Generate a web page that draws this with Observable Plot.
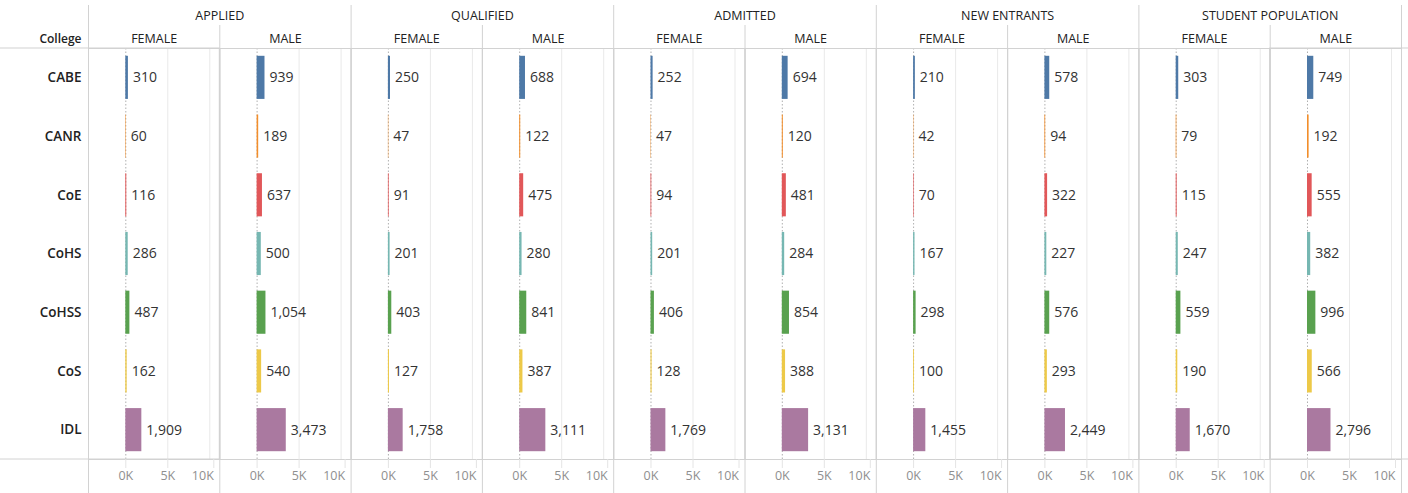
<!DOCTYPE html>
<html><head><meta charset="utf-8">
<script src="https://cdn.jsdelivr.net/npm/d3@7"></script>
<script src="https://cdn.jsdelivr.net/npm/@observablehq/plot@0.6"></script>
<style>html,body{margin:0;padding:0;background:#fff;} #chart svg{display:block;}</style>
</head><body><div id="chart"></div>
<script>
const colleges = ["CABE", "CANR", "CoE", "CoHS", "CoHSS", "CoS", "IDL"];
const stages = ["APPLIED", "QUALIFIED", "ADMITTED", "NEW ENTRANTS", "STUDENT POPULATION"];
const genders = ["FEMALE", "MALE"];
const collegeColors = ["#4e79a7", "#f28e2b", "#e15759", "#76b7b2", "#59a14f", "#edc948", "#aa79a0"];

const appliedFemale = [310, 60, 116, 286, 487, 162, 1909];
const appliedMale = [939, 189, 637, 500, 1054, 540, 3473];
const qualifiedFemale = [250, 47, 91, 201, 403, 127, 1758];
const qualifiedMale = [688, 122, 475, 280, 841, 387, 3111];
const admittedFemale = [252, 47, 94, 201, 406, 128, 1769];
const admittedMale = [694, 120, 481, 284, 854, 388, 3131];
const entrantsFemale = [210, 42, 70, 167, 298, 100, 1455];
const entrantsMale = [578, 94, 322, 227, 576, 293, 2449];
const populationFemale = [303, 79, 115, 247, 559, 190, 1670];
const populationMale = [749, 192, 555, 382, 996, 566, 2796];

const xTicks = [0, 5000, 10000];
const xTickLabels = ["0K", "5K", "10K"];

// build table
const series = [appliedFemale, appliedMale, qualifiedFemale, qualifiedMale, admittedFemale, admittedMale,
  entrantsFemale, entrantsMale, populationFemale, populationMale];
const keys = stages.flatMap(s => genders.map(g => s + "|" + g));
const table = keys.flatMap((k, i) => colleges.map((c, j) => ({k, college: c, value: series[i][j]})));
const femaleKeys = keys.filter(k => k.endsWith("|FEMALE"));
const maleKeys = keys.filter(k => k.endsWith("|MALE"));
const fmt = d3.format(",");
const tickLabel = d => xTickLabels[xTicks.indexOf(d)];

const W = 1408, H = 493, mL = 88, mR = 7, mT = 48, mB = 34;
const panelW = (W - mL - mR) / keys.length;
const xDomain = [-4440, 11190];
const lineColor = "#d2d2d2";
const font = "'Open Sans', Lato, sans-serif";
const axisXStyle = {anchor: "bottom", tickSize: 9, tickPadding: 3, label: null, stroke: "#e4e4e4",
  fill: "#8f8f8f", fontSize: 12.5, tickFormat: tickLabel};

const chart = Plot.plot({
  width: W, height: H,
  marginLeft: mL, marginRight: mR, marginTop: mT, marginBottom: mB,
  style: {fontFamily: font, fontSize: "13px", color: "#333", background: "#fff"},
  fx: {domain: keys, padding: 0, round: false},
  x: {domain: xDomain},
  y: {domain: colleges, padding: 0, round: false},
  color: {domain: colleges, range: collegeColors},
  marks: [
    Plot.gridX({ticks: xTicks.slice(1), stroke: "#e9e9e9", strokeOpacity: 1}),
    Plot.ruleX([0], {stroke: "#b0b0b0", strokeDasharray: "1.5,2"}),
    Plot.barX(table, {fx: "k", y: "college", x: "value", fill: "college", insetTop: 7.8, insetBottom: 7.8}),
    Plot.text(table, {fx: "k", y: "college", x: "value", text: d => fmt(d.value), textAnchor: "start",
      dx: 4.5, fill: "#333", fontSize: 14}),
    Plot.frame({stroke: lineColor}),
    Plot.rect([keys[0]], {fx: d => d, stroke: lineColor, fill: "none", insetLeft: -92}),
    Plot.rect([keys[keys.length - 1]], {fx: d => d, stroke: lineColor, fill: "none", insetRight: -12}),
    Plot.ruleX(femaleKeys, {fx: d => d, x: xDomain[0], stroke: lineColor, insetTop: -43, insetBottom: -34}),
    Plot.ruleX(maleKeys, {fx: d => d, x: xDomain[0], stroke: lineColor, insetTop: -23, insetBottom: -34}),
    Plot.ruleX([keys[keys.length - 1]], {fx: d => d, x: xDomain[1], stroke: lineColor, insetTop: -43, insetBottom: -34}),
    Plot.axisFx({anchor: "top", tickSize: 0, tickPadding: 6, label: null, fontSize: 12.5, fontWeight: 500, fill: "#222",
      tickFormat: k => k.split("|")[1]}),
    Plot.axisFx({anchor: "top", tickSize: 0, tickPadding: 6, label: null, fontSize: 12.5, fontWeight: 500, fill: "#222",
      tickFormat: k => k.endsWith("|FEMALE") ? k.split("|")[0] : "", dx: panelW / 2, dy: -23}),
    Plot.axisY({anchor: "left", tickSize: 0, tickPadding: 7, label: null, fontSize: 13.5, fontWeight: 600, fill: "#222"}),
    Plot.axisX({...axisXStyle, ticks: xTicks.slice(0, 2)}),
    Plot.axisX({...axisXStyle, ticks: xTicks.slice(2), textAnchor: "end", dx: 4}),
    Plot.text([keys[0]], {fx: d => d, text: () => "College", frameAnchor: "top-left", textAnchor: "end",
      lineAnchor: "bottom", dx: -7, dy: -6, fontWeight: 600, fontSize: 12, fill: "#222"})
  ]
});
document.getElementById("chart").append(chart);
</script>
</body></html>
